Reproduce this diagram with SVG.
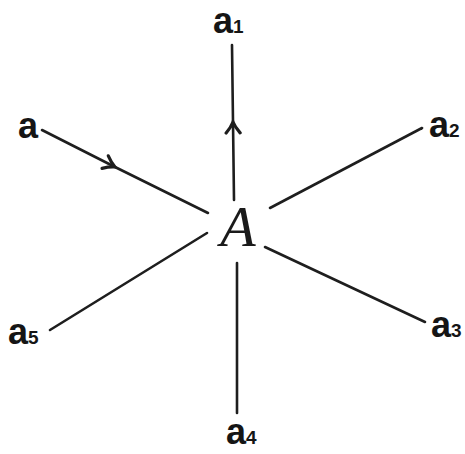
<svg xmlns="http://www.w3.org/2000/svg" width="465" height="454" viewBox="0 0 465 454">
<style>
.edge{fill:none;stroke:#1e1e1e;stroke-width:2.6;stroke-linecap:round}
.lbl{font-family:"Liberation Sans","DejaVu Sans",sans-serif;font-weight:bold;font-size:36px;fill:#151515}
.sub{font-size:19px}
.big{font-family:"Liberation Serif","DejaVu Serif",serif;font-style:italic;font-size:58px;fill:#1a1a1a}
</style>
<defs>
<marker id="chev" markerUnits="userSpaceOnUse" viewBox="-14 -10 16 20" markerWidth="16" markerHeight="20" refX="0" refY="0" orient="auto">
<path d="M-11,-7 Q-5,-2 0,0 Q-5,2 -11,7" fill="none" stroke="#1e1e1e" stroke-width="3.2" stroke-linecap="round"/>
</marker>
</defs>
<rect width="465" height="454" fill="#ffffff"/>
<g id="connectors">
<polyline class="edge" points="42,130 115,167 208,213" marker-mid="url(#chev)"/>
<polyline class="edge" points="234,200 233,122 232,45" marker-mid="url(#chev)"/>
<line class="edge" x1="270" y1="208" x2="422" y2="128"/>
<line class="edge" x1="265" y1="247" x2="425" y2="322"/>
<line class="edge" x1="237" y1="263" x2="237" y2="413"/>
<line class="edge" x1="207" y1="233" x2="50" y2="330"/>
</g>
<g id="A"><text class="big" x="238" y="246" text-anchor="middle">A</text></g>
<g id="a"><text class="lbl" x="18" y="138">a</text></g>
<g id="a1"><text class="lbl" x="213" y="33">a<tspan class="sub">1</tspan></text></g>
<g id="a2"><text class="lbl" x="429" y="137">a<tspan class="sub">2</tspan></text></g>
<g id="a3"><text class="lbl" x="431" y="337">a<tspan class="sub">3</tspan></text></g>
<g id="a4"><text class="lbl" x="226" y="444">a<tspan class="sub">4</tspan></text></g>
<g id="a5"><text class="lbl" x="8" y="344">a<tspan class="sub">5</tspan></text></g>
</svg>
